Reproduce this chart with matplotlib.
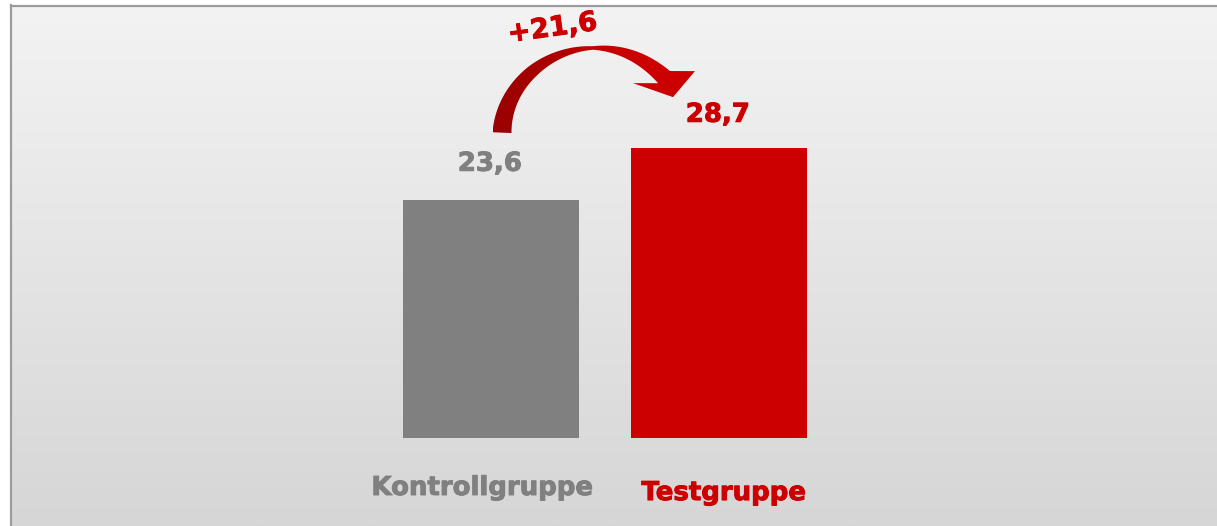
import numpy as np
import matplotlib
matplotlib.use("Agg")
import matplotlib.pyplot as plt
from matplotlib.patches import Polygon
from matplotlib.colors import LinearSegmentedColormap
import matplotlib.patheffects as pe

categories = ["Kontrollgruppe", "Testgruppe"]
values = [23.6, 28.7]
value_labels = ["23,6", "28,7"]
change_label = "+21,6"
colors = ["#808080", "#cc0000"]

W, H = 1217, 526
fig = plt.figure(figsize=(W / 100, H / 100), dpi=100)
fig.patch.set_facecolor("white")

# background panel with vertical gradient
bg = fig.add_axes([10 / W, 0, 1 - 10 / W, 1 - 5 / H])
grad = np.linspace(0, 1, 256).reshape(-1, 1)
cmap_bg = LinearSegmentedColormap.from_list("bg", ["#f3f3f3", "#d6d6d6"])
bg.imshow(grad, aspect="auto", cmap=cmap_bg, extent=[0, 1, 0, 1], origin="upper")
bg.set_xlim(0, 1)
bg.set_ylim(0, 1)
bg.axis("off")
fig.add_artist(plt.Line2D([10.5 / W, 10.5 / W], [0, 1 - 5 / H], color="#9c9c9c", lw=1.6))
fig.add_artist(plt.Line2D([11 / W, 1], [1 - 5.5 / H, 1 - 5.5 / H], color="#9c9c9c", lw=1.6))

ax = fig.add_axes([0, 0, 1, 1])
ax.patch.set_alpha(0)
ax.axis("off")
px_per_x = 228.0
x0_px = 491.0
base_px = 438.0
px_per_val = 10.1
ax.set_xlim(-x0_px / px_per_x, (W - x0_px) / px_per_x)
ax.set_ylim(-(H - base_px) / px_per_val, base_px / px_per_val)

x = np.arange(len(categories))
ax.bar(x, values, width=176 / px_per_x, color=colors, zorder=2)

fs = 18.7


def bold_text(xx, yy, s, c, size=fs, **kw):
    t = ax.text(xx, yy, s, ha="center", va="center", fontsize=size, fontweight="bold",
                color=c, **kw)
    t.set_path_effects([pe.withStroke(linewidth=0.7, foreground=c)])
    return t


label_off = [3.55, 3.3]
for i, (v, lab, c) in enumerate(zip(values, value_labels, colors)):
    bold_text(x[i] - 0.005, v + label_off[i], lab, c)

cat_dx = [-0.04, 0.02]
cat_y = [-4.95, -5.45]
for i, (cat, c) in enumerate(zip(categories, colors)):
    bold_text(x[i] + cat_dx[i], cat_y[i], cat, c)

# ---- curved ribbon arrow from control bar to test bar (pixel offsets from bar tops) ----
fig.canvas.draw()
T = ax.transData
a0 = T.transform((x[0], values[0]))  # top centre of control bar (display px)
a1 = T.transform((x[1], values[1]))  # top centre of test bar


def off(anchor, dx, dy_down):
    return np.array([anchor[0] + dx, anchor[1] - dy_down])


P0 = off(a0, 11, -67)       # tail centre
P1 = off(a0, 14, -139)
P2 = off(a1, -119, -133)
P3 = off(a1, -55, -71)      # head base centre
t = np.linspace(0, 1, 120)[:, None]
curve = ((1 - t) ** 3) * P0 + 3 * ((1 - t) ** 2) * t * P1 + 3 * (1 - t) * t ** 2 * P2 + t ** 3 * P3
deriv = 3 * ((1 - t) ** 2) * (P1 - P0) + 6 * (1 - t) * t * (P2 - P1) + 3 * t ** 2 * (P3 - P2)
tang = deriv / np.linalg.norm(deriv, axis=1, keepdims=True)
normal = np.column_stack([-tang[:, 1], tang[:, 0]])
w = np.interp(t[:, 0], [0, 0.35, 0.66, 1.0], [19, 12, 3.5, 17]) / 2
outer = curve + normal * w[:, None]
inner = curve - normal * w[:, None]
head_l = off(P3, -31, 6)
head_r = off(P3, 31, -6)
tip = off(P3, 9, 20)
pts = np.vstack([outer, head_r, tip, head_l, inner[::-1]])
pts_data = T.inverted().transform(pts)
arrow = Polygon(pts_data, closed=True, facecolor="none", edgecolor="none", zorder=3)
ax.add_patch(arrow)

cmap_ar = LinearSegmentedColormap.from_list("ar", ["#9a0000", "#a80000", "#c40000", "#cc0000", "#cc0000"])
gx = np.linspace(0, 1, 256).reshape(1, -1)
xl, yl = ax.get_xlim(), ax.get_ylim()
ex0, ex1 = pts_data[:, 0].min(), pts_data[:, 0].max()
ey0, ey1 = pts_data[:, 1].min(), pts_data[:, 1].max()
im = ax.imshow(gx, aspect="auto", cmap=cmap_ar, extent=[ex0, ex1, ey0, ey1], zorder=3)
im.set_clip_path(arrow)
ax.set_xlim(xl)
ax.set_ylim(yl)

bold_text(x[0] + 0.27, values[1] + 11.8, change_label, "#cc0000", size=19.6, rotation=8)

fig.savefig("out.png", dpi=100)
